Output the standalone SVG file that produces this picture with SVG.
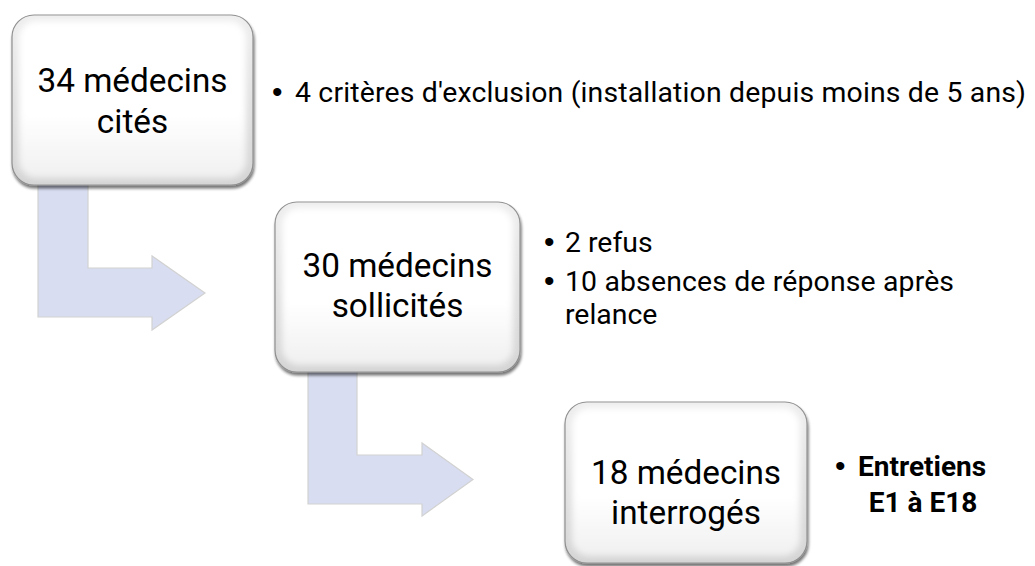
<svg xmlns="http://www.w3.org/2000/svg" width="1035" height="566" viewBox="0 0 1035 566">
  <defs>
    <linearGradient id="rim" x1="0" y1="0" x2="0" y2="1">
      <stop offset="0" stop-color="#eeeeee"/>
      <stop offset="1" stop-color="#d4d4d4"/>
    </linearGradient>
    <linearGradient id="face" x1="0" y1="0" x2="0" y2="1">
      <stop offset="0" stop-color="#ffffff"/>
      <stop offset="0.6" stop-color="#ffffff"/>
      <stop offset="1" stop-color="#f0f0f0"/>
    </linearGradient>
    <filter id="drop" x="-10%" y="-10%" width="125%" height="125%">
      <feGaussianBlur in="SourceAlpha" stdDeviation="1.5"/>
      <feOffset dx="1" dy="2.5" result="b"/>
      <feComponentTransfer><feFuncA type="linear" slope="0.55"/></feComponentTransfer>
      <feMerge><feMergeNode/><feMergeNode in="SourceGraphic"/></feMerge>
    </filter>
    <filter id="soft" x="-10%" y="-10%" width="120%" height="120%">
      <feGaussianBlur stdDeviation="3"/>
    </filter>
  </defs>
  <style>
    .rim { fill: url(#rim); stroke: #8f8f8f; stroke-width: 1.2; }
    .face { fill: url(#face); }
    .arrow { fill: #d8ddf1; stroke: #d2d2d2; stroke-width: 1.2; stroke-linejoin: miter; }
    .big { font-family: Roboto, "Liberation Sans", sans-serif; font-size: 33.3px; fill: #000; text-anchor: middle; }
    .txt { font-family: Roboto, "Liberation Sans", sans-serif; font-size: 28.4px; fill: #000; }
    .bul { font-family: "Liberation Sans", sans-serif; font-size: 30px; fill: #000; }
    .bold { font-weight: bold; font-size: 28px; }
  </style>

  <g id="connectors">
    <path class="arrow" d="M38,175 L88,175 L88,268 L152,268 L152,256 L205,293 L152,330 L152,317 L38,317 Z"/>
    <path class="arrow" d="M308,362 L357,362 L357,455 L422,455 L422,443 L473,479.5 L422,516 L422,504 L308,504 Z"/>
  </g>

  <g id="node1">
    <g filter="url(#drop)">
      <rect class="rim" x="12" y="15" width="241" height="170" rx="22"/>
    </g>
    <rect class="face" x="19" y="21" width="227" height="157" rx="17" filter="url(#soft)"/>
    <text class="big"><tspan x="132.5" y="92">34 médecins</tspan><tspan x="132.5" y="133">cités</tspan></text>
  </g>

  <g id="node2">
    <g filter="url(#drop)">
      <rect class="rim" x="275" y="202" width="245" height="170" rx="22"/>
    </g>
    <rect class="face" x="282" y="208" width="231" height="157" rx="17" filter="url(#soft)"/>
    <text class="big"><tspan x="397.5" y="277">30 médecins</tspan><tspan x="397.5" y="317">sollicités</tspan></text>
  </g>

  <g id="node3">
    <g filter="url(#drop)">
      <rect class="rim" x="565" y="402" width="242" height="161" rx="22"/>
    </g>
    <rect class="face" x="572" y="408" width="228" height="148" rx="17" filter="url(#soft)"/>
    <text class="big"><tspan x="686" y="484">18 médecins</tspan><tspan x="686" y="524">interrogés</tspan></text>
  </g>

  <g id="text1">
    <text class="bul" x="272" y="102">•</text>
    <text class="txt" x="295" y="102" textLength="731" lengthAdjust="spacing">4 critères d'exclusion (installation depuis moins de 5 ans)</text>
  </g>

  <g id="text2">
    <text class="bul" x="544" y="252">•</text>
    <text class="txt" x="565" y="252">2 refus</text>
    <text class="bul" x="544" y="291">•</text>
    <text class="txt"><tspan x="565" y="291" textLength="389" lengthAdjust="spacing">10 absences de réponse après</tspan><tspan x="565" y="324">relance</tspan></text>
  </g>

  <g id="text3">
    <text class="bul" x="835" y="476">•</text>
    <text class="txt bold"><tspan x="858" y="476">Entretiens</tspan><tspan x="923" y="512" text-anchor="middle">E1 à E18</tspan></text>
  </g>
</svg>
